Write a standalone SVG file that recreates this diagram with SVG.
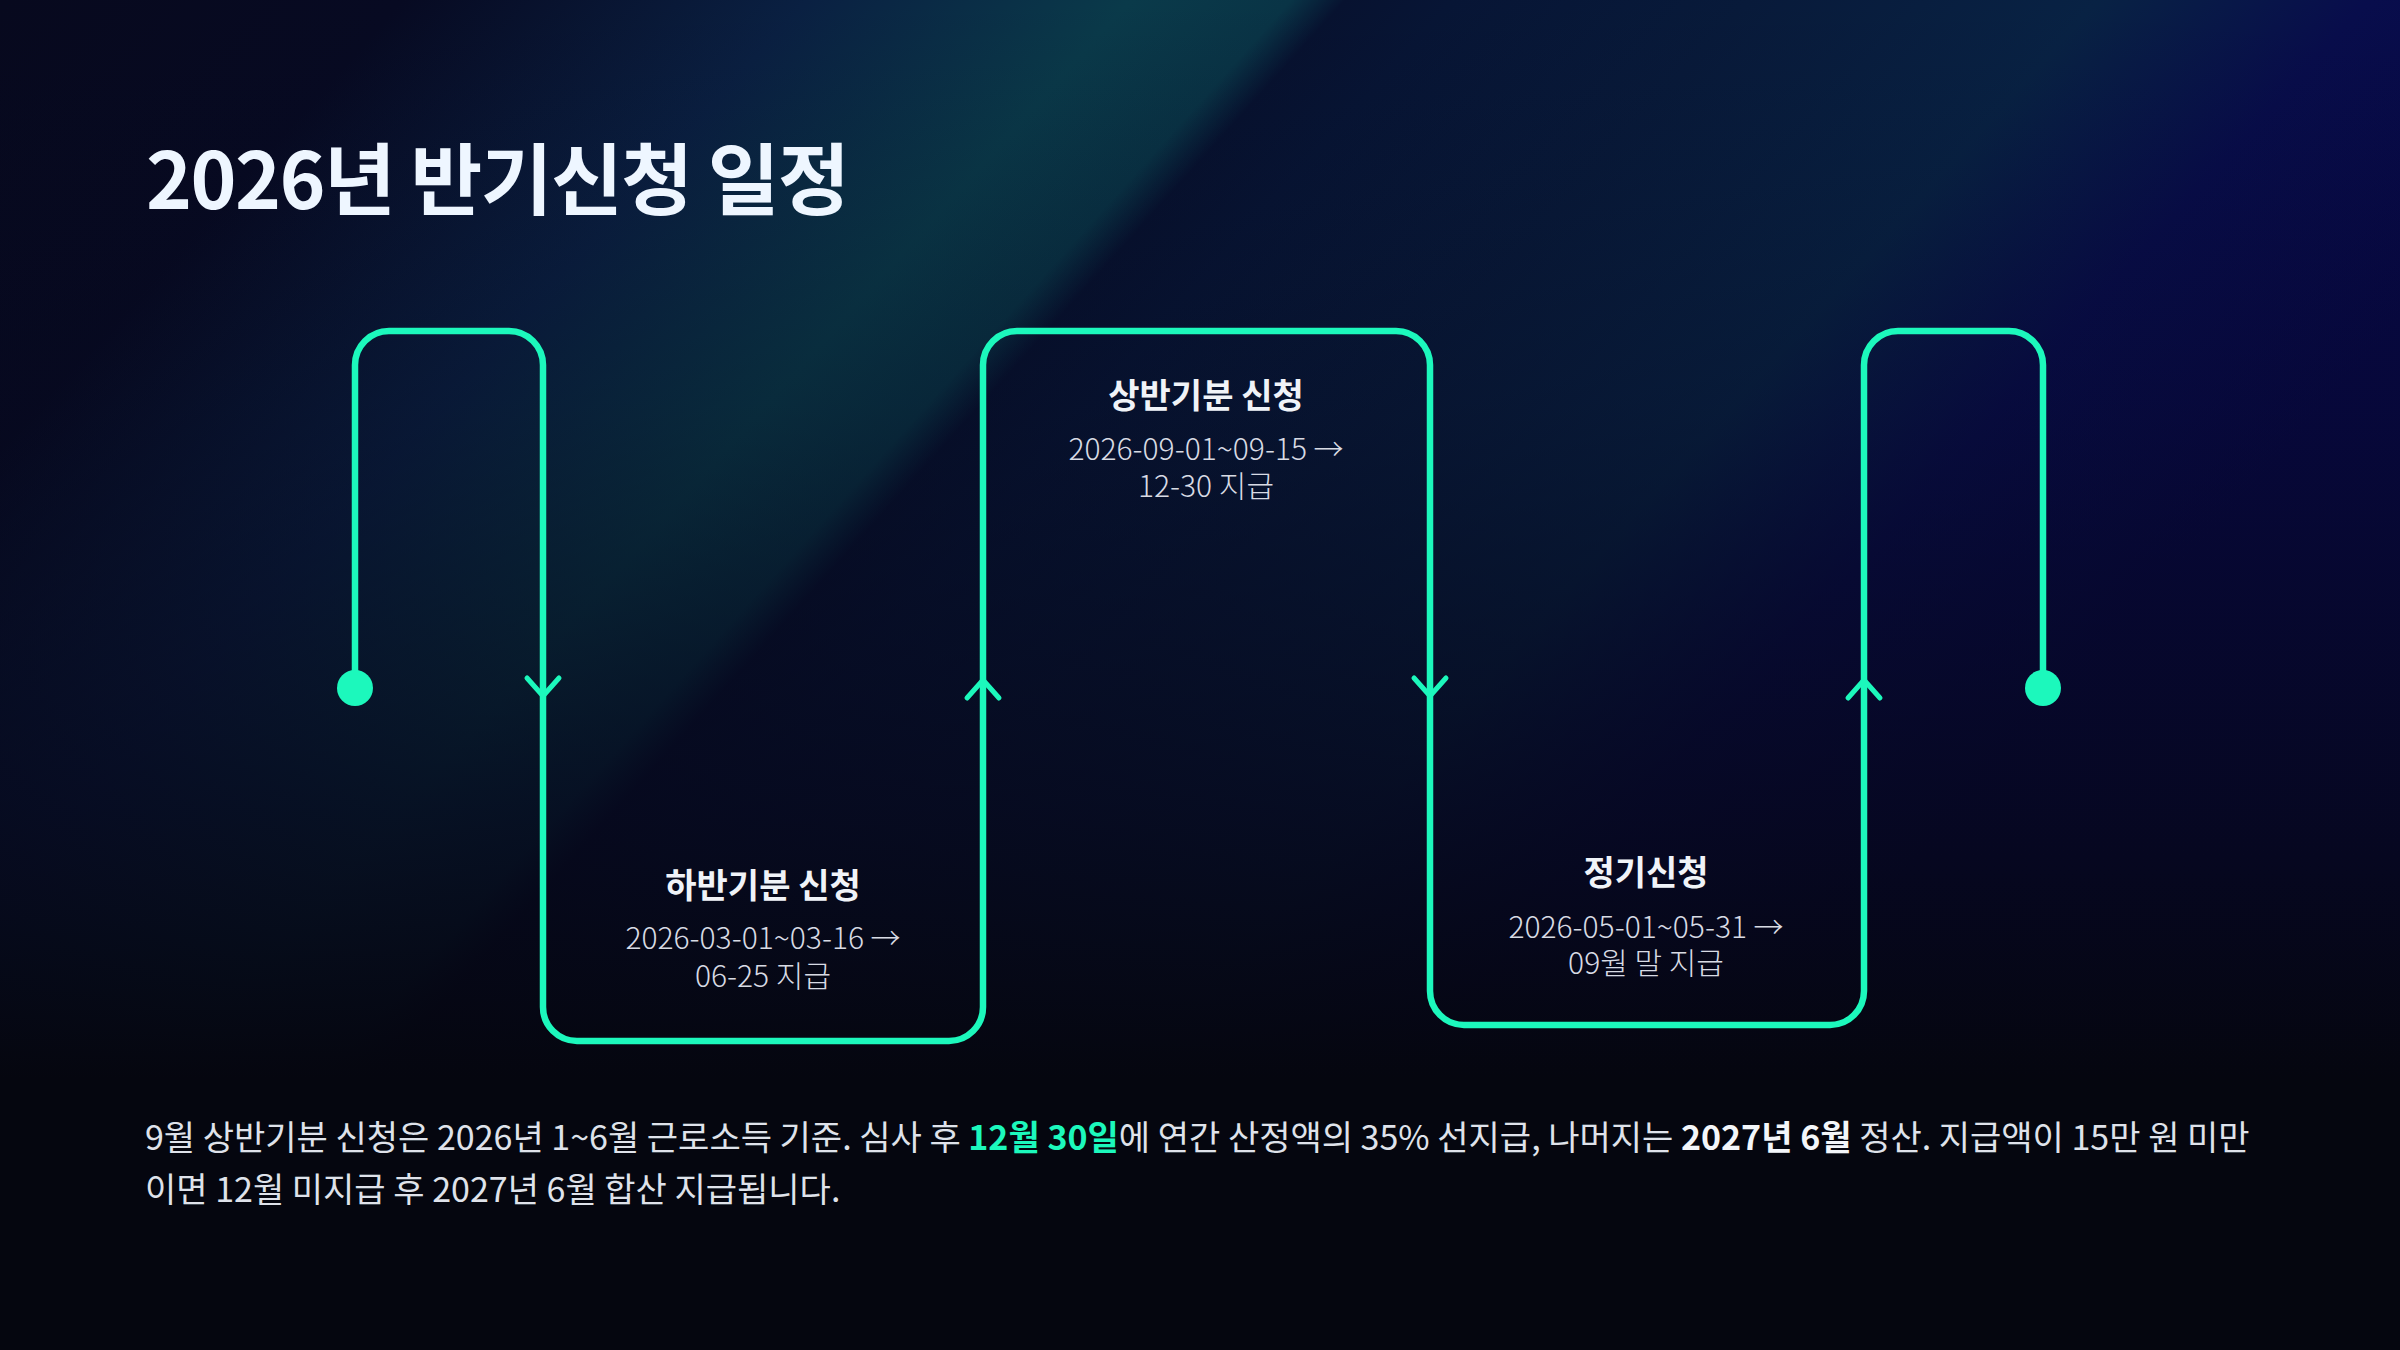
<svg xmlns="http://www.w3.org/2000/svg" width="2400" height="1350" viewBox="0 0 2400 1350">
  <defs>
    <linearGradient id="bands" gradientUnits="userSpaceOnUse" x1="0" y1="0" x2="1486" y2="1338">
      <stop offset="0" stop-color="#07091e"/>
      <stop offset="0.15" stop-color="#070a22"/>
      <stop offset="0.30" stop-color="#0a2042"/>
      <stop offset="0.42" stop-color="#0a3a4a"/>
      <stop offset="0.48" stop-color="#093446"/>
      <stop offset="0.50" stop-color="#071230"/>
      <stop offset="0.54" stop-color="#071535"/>
      <stop offset="0.65" stop-color="#081a3a"/>
      <stop offset="0.78" stop-color="#082244"/>
      <stop offset="0.88" stop-color="#080d4c"/>
      <stop offset="1" stop-color="#070848"/>
    </linearGradient>
    <linearGradient id="fade" gradientUnits="userSpaceOnUse" x1="0" y1="0" x2="0" y2="1350">
      <stop offset="0" stop-color="#06071a" stop-opacity="0"/>
      <stop offset="0.3" stop-color="#06071a" stop-opacity="0.3"/>
      <stop offset="0.6" stop-color="#06071a" stop-opacity="0.8"/>
      <stop offset="0.8" stop-color="#05060f" stop-opacity="1"/>
      <stop offset="1" stop-color="#05060f" stop-opacity="1"/>
    </linearGradient>
    <path id="chev" d="M -16 -10 L 0 8 L 16 -10"/>
    <style>
      .line { fill: none; stroke: #1cf8bc; stroke-width: 6.5; stroke-linejoin: round; stroke-linecap: round; }
      .chev { fill: none; stroke: #1cf8bc; stroke-width: 5; stroke-linecap: round; stroke-linejoin: round; }
      .dot { fill: #1cf8bc; }
      text { font-family: "Noto Sans CJK KR", "Noto Sans", sans-serif; }
      .title { font-size: 78px; font-weight: 700; fill: #eef6ff; letter-spacing: -1.5px; }
      .ntitle { font-size: 34px; font-weight: 700; fill: #f0f3f8; text-anchor: middle; }
      .ndate { font-size: 30px; font-weight: 300; fill: #d8dbe4; text-anchor: middle; }
      .para { font-size: 34px; font-weight: 400; fill: #dfe2ea; }
      .hl { fill: #1cf8bc; font-weight: 700; }
      .bw { fill: #f4f6fa; font-weight: 700; }
    </style>
  </defs>

  <rect x="0" y="0" width="2400" height="1350" fill="url(#bands)"/>
  <rect x="0" y="0" width="2400" height="1350" fill="url(#fade)"/>

  <text class="title" x="146" y="209">2026년 반기신청 일정</text>

  <g id="connectors">
    <path class="line" d="M 355 688 L 355 365 A 34 34 0 0 1 389 331 L 509 331 A 34 34 0 0 1 543 365 L 543 1007 A 34 34 0 0 0 577 1041 L 949 1041 A 34 34 0 0 0 983 1007 L 983 365 A 34 34 0 0 1 1017 331 L 1396 331 A 34 34 0 0 1 1430 365 L 1430 991 A 34 34 0 0 0 1464 1025 L 1830 1025 A 34 34 0 0 0 1864 991 L 1864 365 A 34 34 0 0 1 1898 331 L 2009 331 A 34 34 0 0 1 2043 365 L 2043 688"/>
    <use href="#chev" class="chev" transform="translate(543 688)"/>
    <use href="#chev" class="chev" transform="translate(983 688) rotate(180)"/>
    <use href="#chev" class="chev" transform="translate(1430 688)"/>
    <use href="#chev" class="chev" transform="translate(1864 688) rotate(180)"/>
  </g>

  <g id="start">
    <circle class="dot" cx="355" cy="688" r="18"/>
  </g>
  <g id="end">
    <circle class="dot" cx="2043" cy="688" r="18"/>
  </g>

  <g id="node-lower-half">
    <text class="ntitle" x="763" y="898">하반기분 신청</text>
    <text class="ndate" x="763" y="949">2026-03-01~03-16 →</text>
    <text class="ndate" x="763" y="987">06-25 지급</text>
  </g>

  <g id="node-upper-half">
    <text class="ntitle" x="1206" y="408">상반기분 신청</text>
    <text class="ndate" x="1206" y="460">2026-09-01~09-15 →</text>
    <text class="ndate" x="1206" y="497">12-30 지급</text>
  </g>

  <g id="node-regular">
    <text class="ntitle" x="1646" y="885">정기신청</text>
    <text class="ndate" x="1646" y="938">2026-05-01~05-31 →</text>
    <text class="ndate" x="1646" y="974">09월 말 지급</text>
  </g>

  <g id="note">
    <text class="para" x="145" y="1150">9월 상반기분 신청은 2026년 1~6월 근로소득 기준. 심사 후 <tspan class="hl">12월 30일</tspan>에 연간 산정액의 35% 선지급, 나머지는 <tspan class="bw">2027년 6월</tspan> 정산. 지급액이 15만 원 미만</text>
    <text class="para" x="145" y="1202">이면 12월 미지급 후 2027년 6월 합산 지급됩니다.</text>
  </g>
</svg>
